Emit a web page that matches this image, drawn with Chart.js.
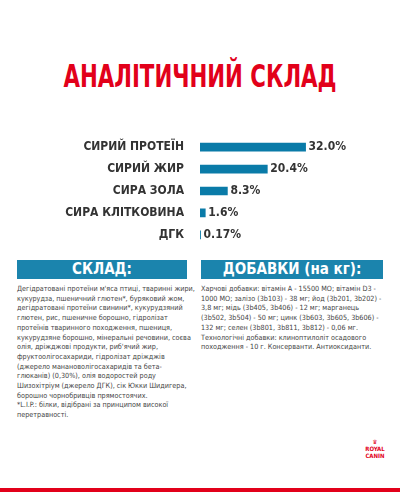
<!DOCTYPE html>
<html>
<head>
<meta charset="utf-8">
<script src="https://cdn.jsdelivr.net/npm/chart.js@4"></script>
<style>
  body { margin: 0; width: 400px; height: 500px; background: #fff; position: relative; overflow: hidden;
         font-family: "DejaVu Sans Condensed", "Liberation Sans Narrow", sans-serif; }
  #title { position: absolute; top: 57px; left: 0; width: 400px; text-align: center; color: #e2001a;
           font-size: 32px; font-weight: bold; white-space: nowrap; transform: scaleX(0.74); }
  #chartBox { position: absolute; left: 0; top: 121px; width: 400px; height: 140px; }
  .head { position: absolute; top: 260px; height: 19px; background: #1b84ad; color: #fff; font-weight: bold;
          font-size: 15px; line-height: 19px; text-align: center; }
  .txt { position: absolute; top: 284px; font-size: 7.2px; line-height: 9.7px; color: #444; }
  #redline { position: absolute; left: 0; bottom: 8px; width: 400px; height: 4px; background: #e2001a; }
  #logo { position: absolute; left: 355px; top: 438px; width: 40px; color: #e2001a; font-size: 6px;
          text-align: center; font-weight: bold; }
</style>
</head>
<body>
<div id="title">АНАЛІТИЧНИЙ СКЛАД</div>
<div id="chartBox"><canvas id="chart"></canvas></div>
<div class="head" style="left:17px;width:170px">СКЛАД:</div>
<div class="head" style="left:201px;width:182px">ДОБАВКИ (на кг):</div>
<div class="txt" style="left:17px;width:178px">Дегідратовані протеїни м'яса птиці, тваринні жири, кукурудза, пшеничний глютен*, буряковий жом, дегідратовані протеїни свинини*, кукурудзяний глютен, рис, пшеничне борошно, гідролізат протеїнів тваринного походження, пшениця, кукурудзяне борошно, мінеральні речовини, соєва олія, дріжджові продукти, риб'ячий жир, фруктоолігосахариди, гідролізат дріжджів (джерело манановолігосахаридів та бета-глюканів) (0,30%), олія водоростей роду Шизохітріум (джерело ДГК), сік Юкки Шидигера, борошно чорнобривців прямостоячих.<br>*L.I.P.: білки, відібрані за принципом високої перетравності.</div>
<div class="txt" style="left:201px;width:182px">Харчові добавки: вітамін А - 15500 МО; вітамін D3 - 1000 МО; залізо (3b103) - 38 мг; йод (3b201, 3b202) - 3,8 мг; мідь (3b405, 3b406) - 12 мг; марганець (3b502, 3b504) - 50 мг; цинк (3b603, 3b605, 3b606) - 132 мг; селен (3b801, 3b811, 3b812) - 0,06 мг. Технологічні добавки: клиноптилоліт осадового походження - 10 г. Консерванти. Антиоксиданти.</div>
<div id="logo">♛<br>ROYAL CANIN</div>
<div id="redline"></div>
<script>
const categories = ['СИРИЙ ПРОТЕЇН', 'СИРИЙ ЖИР', 'СИРА ЗОЛА', 'СИРА КЛІТКОВИНА', 'ДГК'];
const values = [32.0, 20.4, 8.3, 1.6, 0.17];
const valueLabels = ['32.0%', '20.4%', '8.3%', '1.6%', '0.17%'];

const fontFamily = '"DejaVu Sans Condensed", "Liberation Sans Narrow", sans-serif';

const valueLabelPlugin = {
    id: 'valueLabels',
    afterDatasetsDraw(chart) {
        const ctx = chart.ctx;
        const meta = chart.getDatasetMeta(0);
        ctx.save();
        ctx.font = 'bold 12px ' + fontFamily;
        ctx.fillStyle = '#333';
        ctx.textBaseline = 'middle';
        meta.data.forEach((bar, i) => {
            ctx.fillText(valueLabels[i], bar.x + 3, bar.y);
        });
        ctx.restore();
    }
};

new Chart(document.getElementById('chart'), {
    type: 'bar',
    data: {
        labels: categories,
        datasets: [{
            data: values,
            backgroundColor: '#0a7ba8',
            barThickness: 8
        }]
    },
    options: {
        indexAxis: 'y',
        responsive: true,
        maintainAspectRatio: false,
        animation: false,
        layout: { padding: { right: 68, top: 0, bottom: 0 } },
        plugins: { legend: { display: false }, tooltip: { enabled: false } },
        scales: {
            x: { display: false, min: 0, max: 40 },
            y: {
                grid: { display: false },
                border: { display: false },
                afterFit: (scale) => { scale.width = 200; },
                ticks: { color: '#333', font: { family: fontFamily, size: 12, weight: 'bold' }, padding: 8 }
            }
        }
    },
    plugins: [valueLabelPlugin]
});
</script>
</body>
</html>
